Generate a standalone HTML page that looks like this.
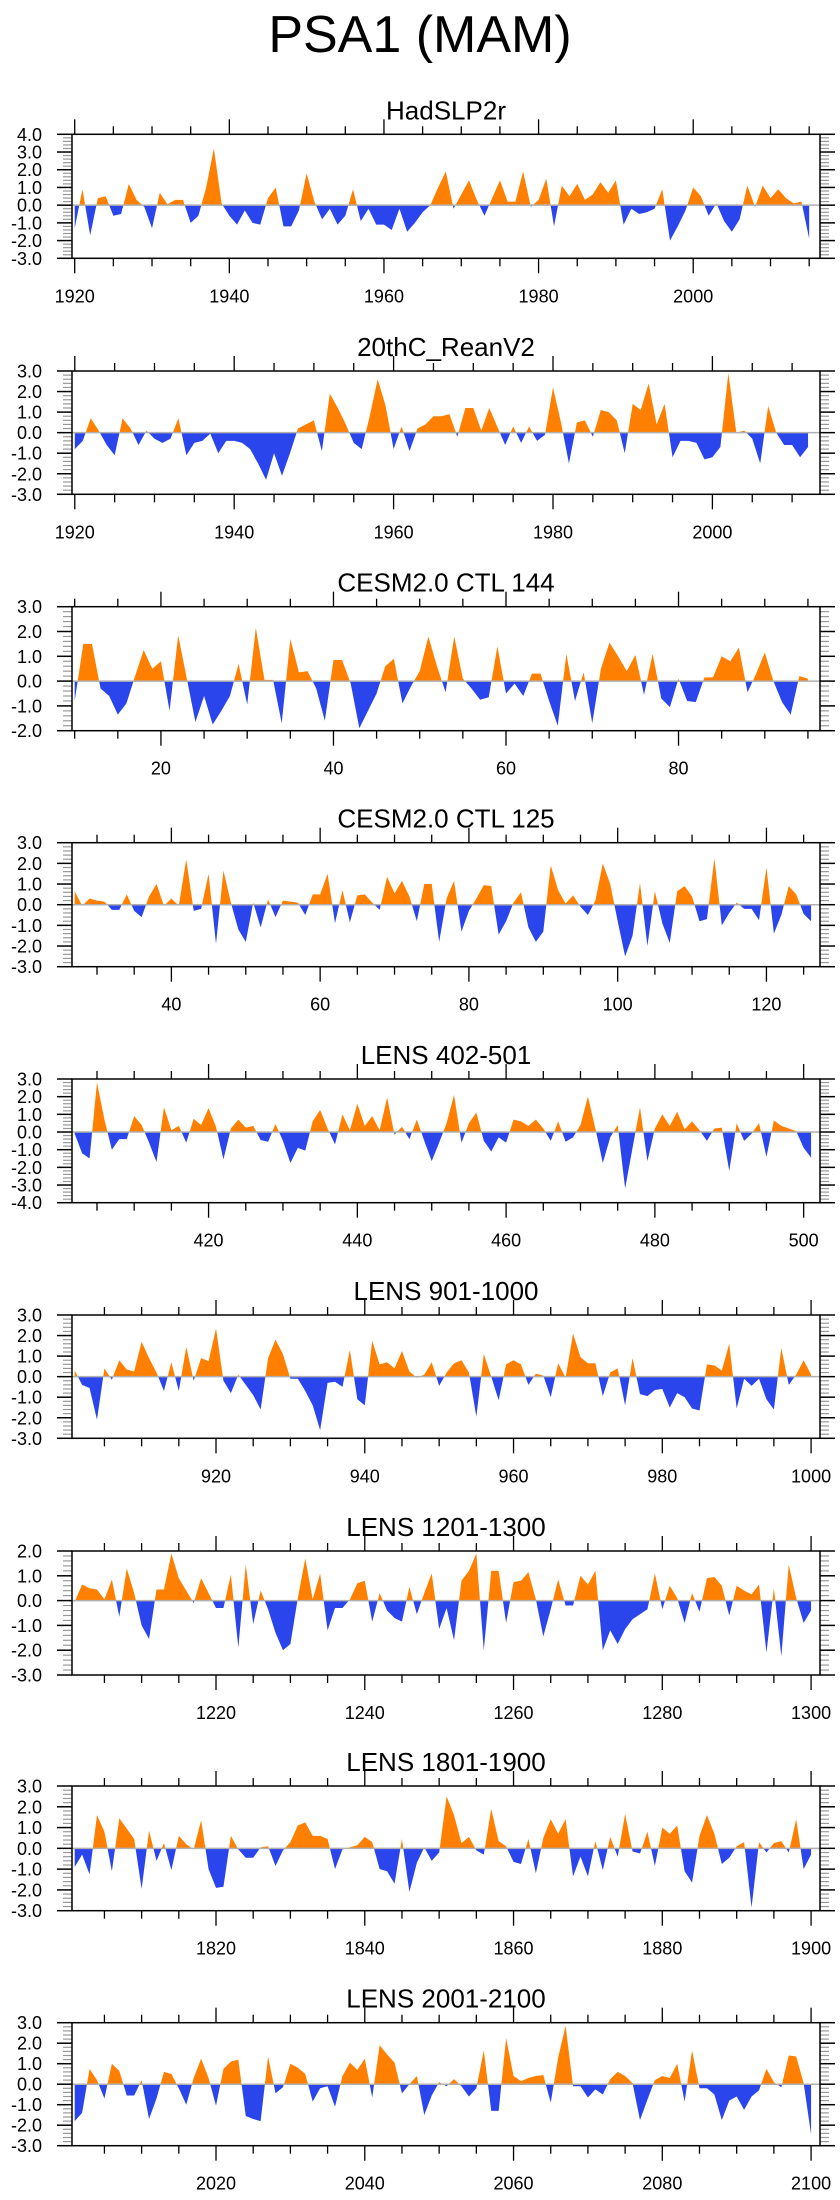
<!DOCTYPE html>
<html><head><meta charset="utf-8"><style>
html,body{margin:0;padding:0;background:#fff;}
svg{display:block;font-family:"Liberation Sans",sans-serif;}
</style></head>
<body>
<svg id="fig" width="840" height="2200" viewBox="0 0 840 2200" xmlns="http://www.w3.org/2000/svg">
<text x="420" y="52" text-anchor="middle" font-size="52">PSA1 (MAM)</text>
</svg>
<script>
const titles = ["HadSLP2r","20thC_ReanV2","CESM2.0 CTL 144","CESM2.0 CTL 125","LENS 402-501","LENS 901-1000","LENS 1201-1300","LENS 1801-1900","LENS 2001-2100"];
const startYears = [1920,1920,10,27,402,901,1201,1801,2001];
const yMins = [-3,-3,-2,-3,-4,-3,-3,-3,-3];
const yMaxs = [4,3,3,3,3,3,2,3,3];
const xLabels1 = [1920,1940,1960,1980,2000];
const xLabels2 = [1920,1940,1960,1980,2000];
const xLabels3 = [20,40,60,80];
const xLabels4 = [40,60,80,100,120];
const xLabels5 = [420,440,460,480,500];
const xLabels6 = [920,940,960,980,1000];
const xLabels7 = [1220,1240,1260,1280,1300];
const xLabels8 = [1820,1840,1860,1880,1900];
const xLabels9 = [2020,2040,2060,2080,2100];
const vals1 = [-1.3,0.9,-1.7,0.4,0.5,-0.6,-0.5,1.2,0.3,-0.1,
-1.3,0.7,0.05,0.3,0.3,-1.0,-0.6,1.0,3.2,0.1,
-0.6,-1.1,-0.3,-1.0,-1.1,0.4,1.0,-1.2,-1.2,-0.3,
1.8,0.2,-0.8,-0.2,-1.1,-0.6,0.9,-0.9,-0.2,-1.1,
-1.1,-1.4,-0.2,-1.5,-1.0,-0.4,0.0,1.0,1.9,-0.2,
0.6,1.4,0.3,-0.6,0.4,1.4,0.2,0.2,1.9,-0.1,
0.3,1.5,-1.2,1.1,0.5,1.2,0.3,0.6,1.3,0.7,
1.4,-1.1,-0.2,-0.5,-0.4,-0.2,0.9,-2.0,-1.2,-0.3,
1.0,0.5,-0.6,0.1,-0.9,-1.5,-0.8,1.1,-0.1,1.1,
0.4,0.9,0.4,0.1,0.2,-1.9];
const vals2 = [-0.8,-0.4,0.7,0.1,-0.6,-1.1,0.7,0.2,-0.6,0.1,
-0.3,-0.5,-0.3,0.7,-1.1,-0.5,-0.4,-0.05,-1.0,-0.4,
-0.4,-0.5,-0.8,-1.5,-2.3,-1.0,-2.1,-1.0,0.2,0.4,
0.6,-0.9,1.9,1.2,0.4,-0.5,-0.8,0.8,2.6,1.3,
-0.8,0.3,-0.9,0.2,0.4,0.8,0.8,0.9,-0.2,1.2,
1.2,0.1,1.2,0.3,-0.6,0.3,-0.5,0.3,-0.4,-0.1,
2.2,0.5,-1.5,0.5,0.6,-0.2,1.1,1.0,0.6,-1.0,
1.4,1.1,2.4,0.4,1.4,-1.2,-0.4,-0.4,-0.5,-1.3,
-1.2,-0.7,2.9,0.0,0.1,-0.3,-1.5,1.3,0.0,-0.6,
-0.6,-1.2,-0.7];
const vals3 = [-0.8,1.5,1.5,-0.3,-0.6,-1.35,-0.9,0.2,1.25,0.5,
0.8,-1.2,1.85,0.1,-1.65,-0.6,-1.75,-1.2,-0.6,0.7,
-0.95,2.15,0.05,0.05,-1.7,1.7,0.35,0.4,-0.3,-1.6,
0.85,0.85,-0.1,-1.9,-1.2,-0.5,0.6,0.9,-0.9,-0.2,
0.4,1.8,0.6,-0.45,1.8,0.1,-0.3,-0.75,-0.65,1.4,
-0.5,-0.1,-0.6,0.3,0.3,-0.8,-1.8,1.1,-0.8,0.35,
-1.7,0.5,1.55,1.0,0.4,1.05,-0.55,1.1,-0.7,-1.05,
0.1,-0.8,-0.85,0.15,0.15,1.0,0.8,1.35,-0.45,0.3,
1.15,0.0,-0.85,-1.35,0.2,0.1];
const vals4 = [0.65,-0.05,0.3,0.2,0.15,-0.25,-0.25,0.5,-0.3,-0.6,
0.4,1.0,-0.05,0.3,-0.05,2.2,-0.3,-0.2,1.5,-1.9,
1.65,0.1,-1.2,-1.8,0.1,-1.1,0.25,-0.6,0.2,0.15,
0.1,-0.5,0.5,0.5,1.5,-0.9,0.7,-0.85,0.45,0.5,
0.1,-0.25,1.35,0.55,1.15,0.4,-0.8,1.0,1.0,-1.8,
0.3,1.15,-1.3,-0.3,0.3,0.95,0.9,-1.45,-0.8,0.1,
0.6,-1.1,-1.8,-1.3,1.9,0.7,0.05,0.45,-0.1,-0.5,
0.2,2.0,1.0,-0.8,-2.5,-1.5,1.05,-2.0,0.65,-0.9,
-1.85,0.65,0.9,0.4,-0.8,-0.7,2.25,-1.0,-0.4,0.1,
-0.2,-0.2,-0.75,1.8,-1.4,-0.5,0.9,0.5,-0.45,-0.8];
const vals5 = [-0.1,-1.2,-1.5,2.8,0.7,-1.0,-0.4,-0.4,0.9,0.4,
-0.6,-1.7,1.4,0.1,0.35,-0.6,0.75,0.4,1.35,0.3,
-1.55,0.2,0.7,0.25,0.35,-0.45,-0.55,0.45,-0.5,-1.75,
-0.9,-1.05,0.6,1.25,0.2,-0.7,1.0,0.1,1.6,0.35,
0.9,0.1,1.95,-0.15,0.3,-0.4,0.7,-0.5,-1.65,-0.6,
0.5,2.1,-0.6,0.5,1.1,-0.5,-1.1,-0.3,-0.6,0.7,
0.6,0.35,0.7,0.2,-0.5,0.6,-0.55,-0.3,0.4,2.0,
0.2,-1.75,-0.3,0.4,-3.2,-0.9,1.4,-1.65,0.2,1.0,
0.35,1.15,0.15,0.6,0.1,-0.5,0.2,0.25,-2.2,0.5,
-0.5,-0.1,0.5,-1.4,0.65,0.35,0.2,0.05,-0.9,-1.45];
const vals6 = [0.3,-0.4,-0.55,-2.1,0.4,-0.15,0.8,0.35,0.25,1.7,
0.9,0.2,-0.7,0.7,-0.7,1.45,-0.2,0.9,0.75,2.35,
-0.2,-0.8,0.1,-0.4,-0.9,-1.6,0.9,1.8,1.1,-0.1,
-0.1,-0.7,-1.4,-2.6,-0.3,-0.25,-0.5,1.3,-1.1,-1.4,
1.75,0.6,0.7,0.4,1.25,0.25,-0.05,0.1,0.7,-0.45,
0.2,0.65,0.8,0.2,-1.95,1.1,0.0,-1.15,0.6,0.8,
0.6,-0.4,0.15,0.05,-1.0,0.65,-0.05,2.1,0.95,0.65,
0.65,-0.95,0.2,0.4,-1.4,0.9,-0.85,-0.95,-0.65,-0.6,
-1.5,-0.8,-1.0,-1.55,-1.65,0.6,0.55,0.3,1.6,-1.55,
-0.1,-0.45,-0.1,-1.1,-1.6,1.4,-0.4,0.1,0.8,0.1];
const vals7 = [-0.05,0.65,0.5,0.45,0.05,0.85,-0.65,1.3,0.3,-1.0,
-1.55,0.45,0.45,1.9,0.9,0.4,-0.1,0.9,0.3,-0.3,
-0.3,1.05,-1.9,1.45,-0.95,0.4,-0.35,-1.3,-2.0,-1.75,
0.1,1.7,0.05,1.1,-1.2,-0.3,-0.3,0.05,0.7,0.8,
-0.85,0.3,-0.4,-0.7,-0.85,0.55,-0.55,0.3,1.1,-1.15,
-0.3,-1.6,0.8,1.2,1.9,-2.0,1.2,1.2,-0.9,0.75,
0.8,1.15,0.05,-1.45,-0.35,0.85,-0.2,-0.2,1.0,0.65,
1.2,-2.0,-1.2,-1.75,-1.15,-0.75,-0.55,-0.35,1.1,-0.35,
0.6,0.1,-0.9,0.3,-0.45,0.9,0.95,0.6,-0.6,0.6,
0.4,0.25,0.65,-2.1,0.5,-2.25,1.45,0.1,-0.9,-0.4];
const vals8 = [-0.9,-0.3,-1.25,1.6,0.8,-1.1,1.45,0.95,0.45,-1.95,
0.85,-0.6,0.25,-1.05,0.6,0.2,-0.05,1.35,-1.0,-1.9,
-1.85,0.6,-0.05,-0.45,-0.45,0.05,0.1,-0.85,-0.1,0.3,
1.1,1.25,0.6,0.6,0.45,-1.0,-0.05,0.05,0.15,0.55,
0.3,-1.0,-1.1,-1.7,0.45,-2.1,-0.7,0.05,-0.6,-0.2,
2.5,1.6,0.25,0.55,-0.1,-0.3,1.9,0.35,0.1,-0.65,
-0.75,0.45,-1.2,0.5,1.4,0.7,1.4,-1.35,-0.4,-1.35,
0.35,-1.05,0.55,-0.4,1.65,-0.15,-0.25,0.8,-0.85,1.0,
0.7,1.1,-1.1,-1.65,0.6,1.6,0.7,-0.75,-0.45,0.1,
0.3,-2.85,0.3,-0.2,0.25,0.35,-0.2,1.4,-1.0,-0.3];
const vals9 = [-1.8,-1.4,0.75,0.2,-0.7,1.0,0.65,-0.55,-0.55,0.2,
-1.7,-0.7,0.6,0.5,-0.2,-1.0,0.3,1.25,0.3,-1.05,
0.75,1.1,1.2,-1.55,-1.7,-1.8,1.35,-0.45,-0.15,1.0,
0.8,0.5,-0.85,-0.2,-0.1,-1.1,0.4,1.05,0.7,1.25,
-0.65,1.9,1.45,1.05,-0.45,0.0,0.4,-1.5,-0.55,0.1,
-0.1,0.25,-0.1,-0.6,-0.2,1.65,-1.3,-1.3,2.25,0.4,
0.15,0.3,0.4,0.45,-0.9,1.3,2.85,-0.1,-0.1,-0.65,
-0.25,-0.5,0.25,0.6,0.4,0.05,-1.75,-0.75,0.2,0.4,
0.3,1.0,-0.85,1.65,-0.2,-0.2,-0.5,-1.75,-0.8,-0.6,
-1.25,-0.6,-0.3,0.75,0.1,-0.15,1.4,1.35,0.05,-2.45];

const allVals = [vals1,vals2,vals3,vals4,vals5,vals6,vals7,vals8,vals9];
const allLabels = [xLabels1,xLabels2,xLabels3,xLabels4,xLabels5,xLabels6,xLabels7,xLabels8,xLabels9];
// layout (pixel geometry, not data)
const tops = [134.3,371,606.7,842.7,1079,1315,1551,1786,2022.7];
const bots = [258.3,494.3,730.7,966.7,1202.7,1438.3,1675,1910.7,2145.7];
const padLeft = [0.35,0.35,0.31,0.36,0.36,0.36,0.36,0.36,0.36];
const padRight = [1.4,1.5,1.4,1.2,1.2,1.2,1.2,1.2,1.2];
const L = 72, R = 820;
const NS = "http://www.w3.org/2000/svg";
const svg = document.getElementById('fig');
function mk(tag, attrs, parent){ const e=document.createElementNS(NS,tag); for(const k in attrs) e.setAttribute(k,attrs[k]); (parent||svg).appendChild(e); return e; }
function fmt(v){ return v.toFixed(1); }

for (let p=0;p<9;p++){
  const vals = allVals[p], s = startYears[p];
  const xmin = s - padLeft[p], xmax = s + vals.length - 1 + padRight[p];
  const ymin = yMins[p], ymax = yMaxs[p], top = tops[p], bot = bots[p];
  const xs = v => L + (v - xmin) / (xmax - xmin) * (R - L);
  const ys = v => bot - (v - ymin) / (ymax - ymin) * (bot - top);
  const g = mk('g', {});
  
  
  const t = mk('text', {x:(L+R)/2, y:top-15, 'text-anchor':'middle', 'font-size':26}, g);
  t.textContent = titles[p];
  
  
  const cid = 'clip' + p;
  const defs = mk('defs', {}, g);
  const cp = mk('clipPath', {id:cid+'a'}, defs);
  mk('rect', {x:L, y:top, width:R-L, height:ys(0)-top}, cp);
  const cn = mk('clipPath', {id:cid+'b'}, defs);
  mk('rect', {x:L, y:ys(0), width:R-L, height:bot-ys(0)}, cn);
  let pts = vals.map((v,i)=> xs(s+i).toFixed(2)+','+ys(v).toFixed(2));
  const poly = pts.join(' ') + ' ' + xs(s+vals.length-1).toFixed(2)+','+ys(0).toFixed(2) + ' ' + xs(s).toFixed(2)+','+ys(0).toFixed(2);
  const pos = mk('polygon', {points:poly, fill:'#ff8000', 'clip-path':'url(#'+cid+'a)'}, g);
  
  
  const neg = mk('polygon', {points:poly, fill:'#2b45ec', 'clip-path':'url(#'+cid+'b)'}, g);
  
  
  const zl = mk('line', {x1:L, x2:R, y1:ys(0), y2:ys(0), stroke:'#b0b0b0', 'stroke-width':1.5}, g);
  
  
  // y ticks
  for (let k=Math.round(ymin*5); k<=Math.round(ymax*5); k++){
    const v=k/5, y=ys(v), major = (k%5===0);
    if (major){
      mk('line',{x1:L-15,x2:L,y1:y,y2:y,stroke:'#000','stroke-width':1.5},g);
      mk('line',{x1:R,x2:R+15,y1:y,y2:y,stroke:'#000','stroke-width':1.5},g);
      const lb = mk('text',{x:42,y:y+6.5,'text-anchor':'end','font-size':18},g);
      lb.textContent = fmt(v);
      
      
    } else {
      mk('line',{x1:L-9,x2:L,y1:y,y2:y,stroke:'#999','stroke-width':1.2},g);
      mk('line',{x1:R,x2:R+9,y1:y,y2:y,stroke:'#999','stroke-width':1.2},g);
    }
  }
  // x ticks
  const labs = allLabels[p];
  const step = labs[1]-labs[0];
  for (let v=Math.ceil(xmin/5)*5; v<=xmax; v+=5){
    const x=xs(v), major = (((v - labs[0]) % step)+step)%step===0;
    const len = major?15:8;
    mk('line',{x1:x,x2:x,y1:bot,y2:bot+len,stroke:'#000','stroke-width':1.3},g);
    mk('line',{x1:x,x2:x,y1:top-len,y2:top,stroke:'#000','stroke-width':1.3},g);
  }
  labs.forEach(v=>{
    const lb = mk('text',{x:xs(v),y:bot+44,'text-anchor':'middle','font-size':18},g);
    lb.textContent = String(v);
    
    
  });
  const fr = mk('rect',{x:L,y:top,width:R-L,height:bot-top,fill:'none',stroke:'#000','stroke-width':1.5},g);
  
  
}
</script>
</body></html>
